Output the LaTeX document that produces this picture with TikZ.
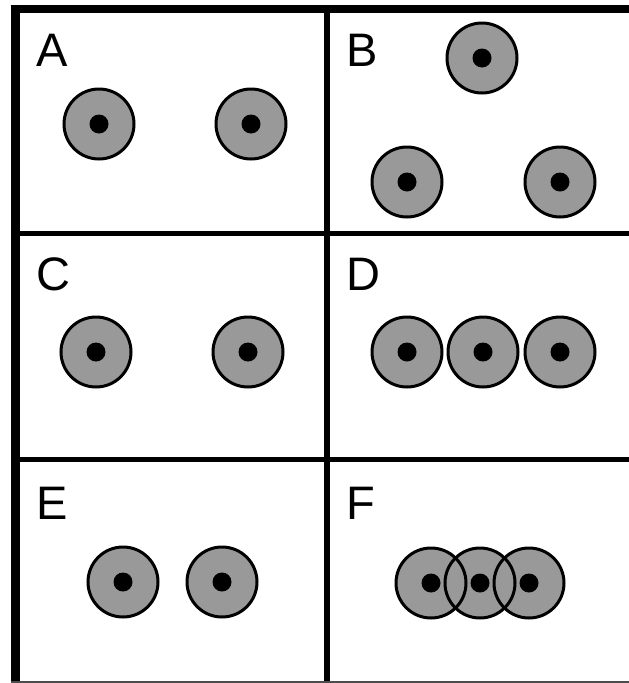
\documentclass[tikz,border=0pt]{standalone}
\usepackage{fontspec}
\setmainfont{Liberation Sans}
\begin{document}
\begin{tikzpicture}[x=1pt,y=-1pt,
  disc/.style={circle,fill=discgray,minimum size=70pt,inner sep=0pt},
  ring/.style={draw=black,line width=3pt},
  dot/.style={circle,fill=black,minimum size=19pt,inner sep=0pt},
  lbl/.style={anchor=base west,inner sep=0pt,font=\fontsize{47}{47}\selectfont},
  thick border/.style={line width=#1,draw=black}]
\definecolor{discgray}{gray}{0.6}
\useasboundingbox (0,0) rectangle (629,683);
\fill[white] (0,0) rectangle (629,683);
% grid lines
\coordinate (tl) at (10.5,9);
\coordinate (tr) at (629,9);
\coordinate (lt) at (15.5,5);
\coordinate (lb) at (15.5,683);
\coordinate (mt) at (327,13);
\coordinate (mb) at (327,683);
\coordinate (h1l) at (20,233);
\coordinate (h1r) at (629,233);
\coordinate (h2l) at (20,459);
\coordinate (h2r) at (629,459);
\coordinate (bl) at (10.5,682);
\coordinate (br) at (629,682);
\draw[line width=8pt] (tl) -- (tr);
\draw[line width=9.5pt] (lt) -- (lb);
\draw[line width=5.5pt] (mt) -- (mb);
\draw[line width=5pt] (h1l) -- (h1r);
\draw[line width=5pt] (h2l) -- (h2r);
\draw[line width=1.5pt,draw=black!70] (bl) -- (br);
% labels
\node[lbl] (la) at (36,66) {A};
\node[lbl] (lb2) at (346,66) {B};
\node[lbl] (lc) at (36,290) {C};
\node[lbl] (ld) at (346,290) {D};
\node[lbl] (le) at (36,519) {E};
\node[lbl] (lf) at (346,519) {F};
% discs: fills
\foreach \n/\x/\y in {a1/99/124,a2/251/124,
  b1/482/58,b2/407/182,b3/560/182,
  c1/96/352,c2/248/352,
  d1/407/352,d2/483/352,d3/560/352,
  e1/123/582,e2/222/582,
  f1/431/583,f2/480/583,f3/529/583}
  {\node[disc] (\n) at (\x,\y) {};}
% outlines
\foreach \n in {a1,a2,b1,b2,b3,c1,c2,d1,d2,d3,e1,e2,f1,f2,f3}
  {\draw[ring] (\n.center) circle[radius=35pt];}
% dots
\foreach \n in {a1,a2,b1,b2,b3,c1,c2,d1,d2,d3,e1,e2,f1,f2,f3}
  {\node[dot] (\n dot) at (\n.center) {};}
\end{tikzpicture}
\end{document}
